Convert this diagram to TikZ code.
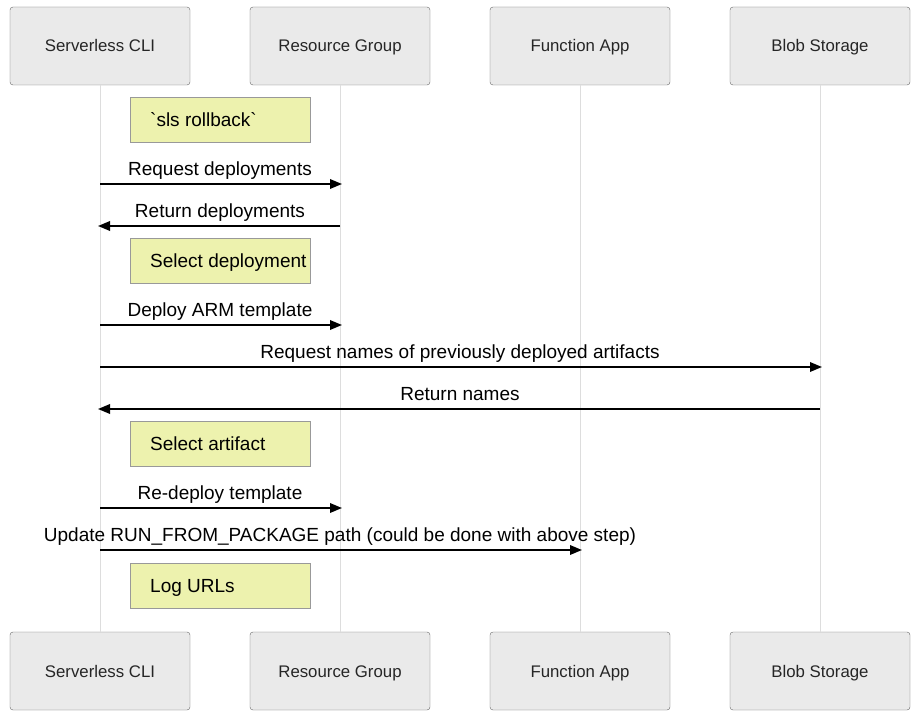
\documentclass[tikz,border=0pt]{standalone}
\usepackage{fontspec}
\setmainfont{Liberation Sans}
\usetikzlibrary{arrows.meta}
\definecolor{actorfill}{HTML}{EAEAEA}
\definecolor{actordraw}{HTML}{666666}
\definecolor{notefill}{HTML}{EDF2AE}
\definecolor{notedraw}{HTML}{999999}
\definecolor{lifeline}{HTML}{DDDDDD}
\newcommand*{\actw}{180pt}
\newcommand*{\acth}{78pt}
\newcommand*{\notew}{180pt}
\newcommand*{\noteh}{45pt}

\begin{document}
\begin{tikzpicture}[x=1pt, y=-1pt,
    actor/.style={draw=actordraw, fill=actorfill, rounded corners=3pt, minimum width=\actw, minimum height=\acth, inner sep=0pt, text height=12pt, text depth=0pt, font=\fontsize{16.8}{19}\selectfont, text=black!85},
    note/.style={draw=notedraw, fill=notefill, minimum width=\notew, minimum height=\noteh, inner sep=0pt},
    notetext/.style={anchor=west, text height=13.7pt, text depth=0pt, font=\fontsize{19}{22}\selectfont, inner sep=0pt},
    msg/.style={line width=1.8pt, -{Triangle[length=12pt, width=9.5pt]}, shorten >=-2pt},
    msglabel/.style={font=\fontsize{19}{22}\selectfont, inner sep=0pt, anchor=base}]
    \useasboundingbox (0,0) rectangle (920,722);
    % actors, top and bottom
    \node [actor] (cliT) at (100,46)  {Serverless CLI};
    \node [actor] (rgT)  at (340,46)  {Resource Group};
    \node [actor] (faT)  at (580,46)  {Function App};
    \node [actor] (bsT)  at (820,46)  {Blob Storage};
    \node [actor] (cliB) at (100,671) {Serverless CLI};
    \node [actor] (rgB)  at (340,671) {Resource Group};
    \node [actor] (faB)  at (580,671) {Function App};
    \node [actor] (bsB)  at (820,671) {Blob Storage};
    % lifelines
    \draw [lifeline, line width=1pt] (cliT.south) -- (cliB.north);
    \draw [lifeline, line width=1pt] (rgT.south)  -- (rgB.north);
    \draw [lifeline, line width=1pt] (faT.south)  -- (faB.north);
    \draw [lifeline, line width=1pt] (bsT.south)  -- (bsB.north);
    % notes
    \node [note] (n1) at (220,119.5) {};
    \node [notetext] (n1t) at (150,119.5) {\textasciigrave sls rollback\textasciigrave};
    \node [note] (n2) at (220,260.5) {};
    \node [notetext] (n2t) at (150,260.5) {Select deployment};
    \node [note] (n3) at (220,443.5) {};
    \node [notetext] (n3t) at (150,443.5) {Select artifact};
    \node [note] (n4) at (220,585.5) {};
    \node [notetext] (n4t) at (150,585.5) {Log URLs};
    % message end points on the lifelines
    \coordinate (c1) at (100,184); \coordinate (r1) at (340,184);
    \coordinate (c2) at (100,226); \coordinate (r2) at (340,226);
    \coordinate (c3) at (100,325); \coordinate (r3) at (340,325);
    \coordinate (c4) at (100,367); \coordinate (b4) at (820,367);
    \coordinate (c5) at (100,409); \coordinate (b5) at (820,409);
    \coordinate (c6) at (100,508); \coordinate (r6) at (340,508);
    \coordinate (c7) at (100,550); \coordinate (f7) at (580,550);
    % messages
    \draw [msg] (c1) -- (r1);
    \node [msglabel] (m1) at (220,175.5) {Request deployments};
    \draw [msg] (r2) -- (c2);
    \node [msglabel] (m2) at (220,217.5) {Return deployments};
    \draw [msg] (c3) -- (r3);
    \node [msglabel] (m3) at (220,316.5) {Deploy ARM template};
    \draw [msg] (c4) -- (b4);
    \node [msglabel] (m4) at (460,358.5) {Request names of previously deployed artifacts};
    \draw [msg] (b5) -- (c5);
    \node [msglabel] (m5) at (460,400.5) {Return names};
    \draw [msg] (c6) -- (r6);
    \node [msglabel] (m6) at (220,499.5) {Re-deploy template};
    \draw [msg] (c7) -- (f7);
    \node [msglabel] (m7) at (340,541.5) {Update RUN\_FROM\_PACKAGE path (could be done with above step)};
\end{tikzpicture}
\end{document}
